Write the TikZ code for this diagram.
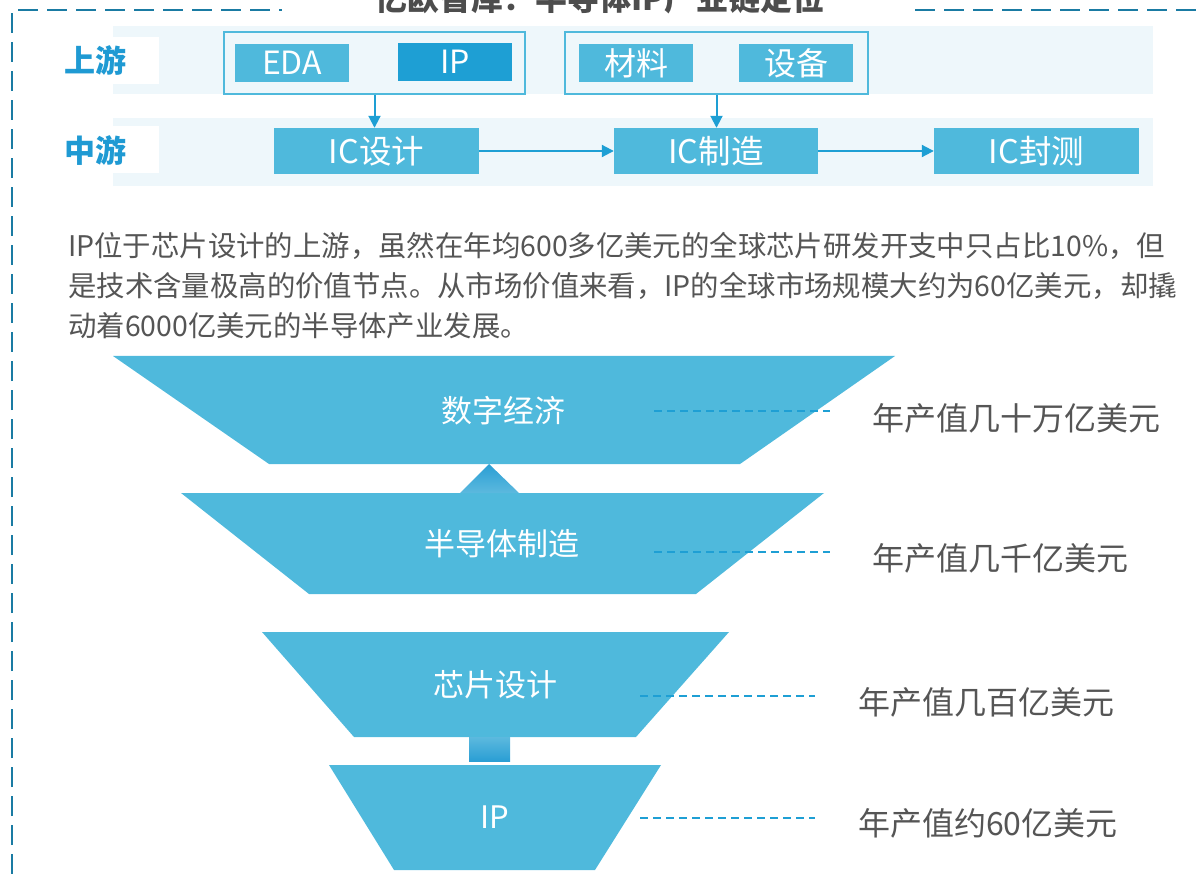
\documentclass[tikz,border=0pt]{standalone}
\usepackage{fontspec}
\setmainfont{Noto Sans CJK SC}
\usetikzlibrary{arrows.meta}
\definecolor{framec}{HTML}{1A7BA3}
\definecolor{bandbg}{HTML}{EEF7FB}
\definecolor{boxfill}{HTML}{4FB9DC}
\definecolor{ipfill}{HTML}{1E9FD4}
\definecolor{arrowc}{HTML}{1E9FD4}
\definecolor{labelblue}{HTML}{1F9AD3}
\definecolor{textgray}{HTML}{555555}
\definecolor{titlegray}{HTML}{4D4D4D}
\definecolor{gradlight}{HTML}{5CB9DE}
\definecolor{graddark}{HTML}{2A9ED4}
\tikzset{
  frameline/.style={draw=framec, line width=2.6pt, dash pattern=on 20pt off 9pt},
  band/.style={fill=bandbg, inner sep=0pt, minimum width=1040pt, minimum height=68pt},
  whitebox/.style={fill=white, inner sep=0pt, minimum width=114pt, minimum height=47pt},
  rowlabel/.style={text=labelblue, font=\fontsize{31}{33}\selectfont\bfseries, inner sep=0pt},
  groupbox/.style={draw=boxfill, line width=2.5pt, inner sep=0pt, minimum height=62pt},
  smallbox/.style={fill=boxfill, text=white, inner sep=0pt, minimum width=114pt, minimum height=38pt, font=\fontsize{32}{34}\selectfont},
  icbox/.style={fill=boxfill, text=white, inner sep=0pt, minimum width=205pt, minimum height=46pt, font=\fontsize{32.5}{34}\selectfont},
  flowarrow/.style={draw=arrowc, line width=2pt, -{Triangle[width=12pt,length=12pt]}},
  para/.style={anchor=base west, text=textgray, inner sep=0pt, font=\fontsize{28.4}{40}\selectfont},
  funnel/.style={fill=boxfill},
  funneltext/.style={text=white, inner sep=0pt, font=\fontsize{31}{33}\selectfont},
  valuetext/.style={anchor=west, text=textgray, inner sep=0pt, font=\fontsize{32}{34}\selectfont},
  dashline/.style={draw=arrowc, line width=1.6pt, dash pattern=on 8pt off 5pt}
}
\begin{document}
\begin{tikzpicture}[x=1pt,y=-1pt]
\useasboundingbox (0,0) rectangle (1199,874);
% frame
\draw[frameline] (12,874) -- (12,10) -- (282,10);
\draw[frameline] (915,10) -- (1199,10);
\node[anchor=base, text=titlegray, inner sep=0pt, font=\fontsize{32}{34}\selectfont\bfseries] (title) at (600,11) {亿欧智库：半导体IP产业链定位};
% bands
\node[band] (band1) at (633,60) {};
\node[band] (band2) at (633,152) {};
\node[whitebox] (wb1) at (102,60.5) {};
\node[whitebox] (wb2) at (102,150) {};
\node[rowlabel] (up) at (95,61) {上游};
\node[rowlabel] (mid) at (95,151) {中游};
% upstream groups
\node[groupbox, minimum width=301pt] (g1) at (374.5,63) {};
\node[groupbox, minimum width=303pt] (g2) at (716.5,63) {};
\node[smallbox] (eda) at (292,63) {EDA};
\node[smallbox, fill=ipfill] (ip) at (455,62) {IP};
\node[smallbox] (cl) at (636,63) {材料};
\node[smallbox] (sb) at (796,63) {设备};
% midstream
\node[icbox] (icd) at (376.5,151) {IC设计};
\node[icbox, minimum width=204pt] (icm) at (716,151) {IC制造};
\node[icbox] (ict) at (1036.5,151) {IC封测};
\draw[flowarrow] (g1.south) -- (g1.south |- icd.north);
\draw[flowarrow] (g2.south) -- (g2.south |- icm.north);
\draw[flowarrow] (icd.east) -- (icm.west);
\draw[flowarrow] (icm.east) -- (ict.west);
% paragraph
\node[para] (p1) at (68,257) {IP位于芯片设计的上游，虽然在年均600多亿美元的全球芯片研发开支中只占比10\%，但};
\node[para] (p2) at (68,297) {是技术含量极高的价值节点。从市场价值来看，IP的全球市场规模大约为60亿美元，却撬};
\node[para] (p3) at (68,337) {动着6000亿美元的半导体产业发展。};
% funnel
\fill[funnel] (113,356) -- (895,356) -- (740,464) -- (269,464) -- cycle;
\fill[funnel] (181,493) -- (824,493) -- (696,594) -- (309,594) -- cycle;
\fill[funnel] (262,632) -- (729,632) -- (636,737) -- (354,737) -- cycle;
\fill[funnel] (329,765) -- (661,765) -- (595,870) -- (394,870) -- cycle;
\shade[top color=graddark, bottom color=gradlight] (489,464) -- (519,493) -- (460,493) -- cycle;
\shade[top color=gradlight, bottom color=graddark] (469,737) rectangle (510,761);
\node[funneltext] (f1) at (503,411) {数字经济};
\node[funneltext] (f2) at (502,544) {半导体制造};
\node[funneltext] (f3) at (495,685) {芯片设计};
\node[funneltext] (f4) at (495,817) {IP};
% value labels
\node[valuetext] (v1) at (872,418) {年产值几十万亿美元};
\node[valuetext] (v2) at (872,558) {年产值几千亿美元};
\node[valuetext] (v3) at (858,702) {年产值几百亿美元};
\node[valuetext] (v4) at (858,823) {年产值约60亿美元};
\coordinate (d1s) at (654,411); \coordinate (d1e) at (830,411);
\coordinate (d2s) at (654,552); \coordinate (d2e) at (830,552);
\coordinate (d3s) at (640,696); \coordinate (d3e) at (815,696);
\coordinate (d4s) at (640,818); \coordinate (d4e) at (815,818);
\draw[dashline] (d1s) -- (d1e);
\draw[dashline] (d2s) -- (d2e);
\draw[dashline] (d3s) -- (d3e);
\draw[dashline] (d4s) -- (d4e);
\end{tikzpicture}
\end{document}
